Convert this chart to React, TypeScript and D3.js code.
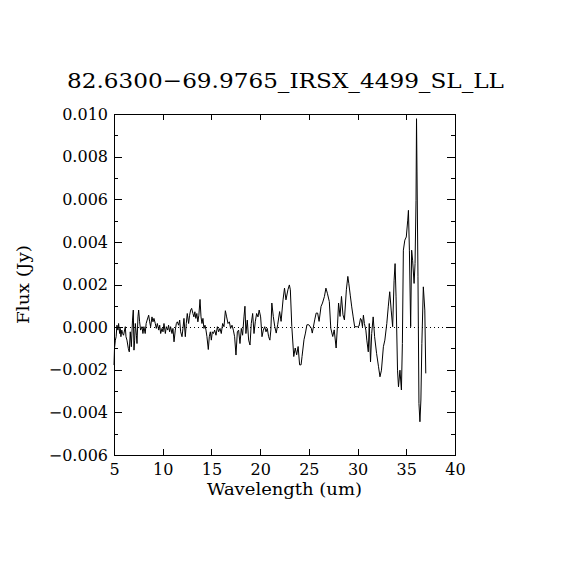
import React, { useEffect, useRef } from 'react';
import * as d3 from 'd3';

const title = '82.6300\u221269.9765_IRSX_4499_SL_LL';
const xLabel = 'Wavelength (um)';
const yLabel = 'Flux (Jy)';

const xTicks = [5, 10, 15, 20, 25, 30, 35, 40];
const yTicks = [-0.006, -0.004, -0.002, 0.0, 0.002, 0.004, 0.006, 0.008, 0.01];
const yMinorTicks = [-0.005, -0.003, -0.001, 0.001, 0.003, 0.005, 0.007, 0.009];

// spectrum (um, Jy)
const wavelength = [
  5.0, 5.05, 5.14, 5.22, 5.3, 5.4, 5.47, 5.58, 5.64, 5.71,
  5.8, 5.88, 5.98, 6.16, 6.23, 6.33, 6.47, 6.57, 6.67, 6.78,
  6.9, 6.98, 7.05, 7.12, 7.19, 7.3, 7.36, 7.46, 7.53, 7.63,
  7.73, 7.87, 7.97, 8.07, 8.2, 8.3, 8.4, 8.56, 8.66, 8.76,
  8.9, 9.0, 9.1, 9.24, 9.34, 9.45, 9.59, 9.69, 9.79, 9.93,
  10.03, 10.13, 10.27, 10.37, 10.51, 10.6, 10.71, 10.81, 10.95, 11.05,
  11.16, 11.29, 11.4, 11.5, 11.63, 11.74, 11.84, 11.98, 12.08, 12.18,
  12.32, 12.42, 12.52, 12.66, 12.76, 12.87, 12.97, 13.1, 13.2, 13.3,
  13.4, 13.5, 13.61, 13.71, 13.83, 13.93, 14.03, 14.13, 14.23, 14.34,
  14.44, 14.54, 14.68, 14.78, 14.89, 14.99, 15.09, 15.2, 15.33, 15.47,
  15.61, 15.74, 15.88, 16.01, 16.15, 16.29, 16.43, 16.56, 16.7, 16.84,
  16.97, 17.11, 17.25, 17.38, 17.52, 17.66, 17.79, 17.93, 18.07, 18.2,
  18.34, 18.44, 18.54, 18.68, 18.82, 18.96, 19.09, 19.23, 19.37, 19.5,
  19.64, 19.78, 19.9, 20.05, 20.19, 20.33, 20.47, 20.6, 20.73, 20.87,
  21.0, 21.1, 21.2, 21.35, 21.5, 21.65, 21.8, 22.0, 22.15, 22.35,
  22.5, 22.65, 22.85, 23.0, 23.1, 23.25, 23.45, 23.6, 23.75, 23.9,
  24.05, 24.2, 24.3, 24.5, 24.65, 24.8, 25.0, 25.25, 25.35, 25.6,
  25.75, 25.9, 26.05, 26.25, 26.4, 26.6, 26.75, 26.9, 27.1, 27.25,
  27.45, 27.6, 27.8, 27.95, 28.05, 28.2, 28.35, 28.5, 28.65, 28.85,
  29.0, 29.1, 29.25, 29.4, 29.55, 29.7, 29.85, 30.0, 30.15, 30.3,
  30.4, 30.5, 30.6, 30.7, 30.85, 30.95, 31.1, 31.2, 31.33, 31.45,
  31.6, 31.75, 31.95, 32.15, 32.3, 32.45, 32.65, 32.8, 33.0, 33.15,
  33.3, 33.45, 33.6, 33.75, 33.85, 33.95, 34.1, 34.2, 34.35, 34.5,
  34.6, 34.7, 34.85, 35.0, 35.15, 35.22, 35.32, 35.45, 35.55, 35.65,
  35.8, 35.9, 36.0, 36.05, 36.1, 36.2, 36.3, 36.4, 36.5, 36.6,
  36.75, 36.9, 37.0,
];

const flux = [
  -0.00178, -0.001, -0.00061, -0.00045, 0.00009, -0.00014, 0.00017, -0.0003, -0.00006, -0.00045,
  -0.00014, -0.0003, -0.00038, 0.00002, -0.00045, -0.00061, -0.001, -0.00116, -0.00022, -0.00092,
  0.00033, 0.0008, -0.00108, -0.00061, 0.00017, -0.00038, -0.00077, 0.00048, 0.0008, 0.00025,
  -0.00014, 0.00002, -0.0003, 0.00002, -0.0003, 0.00017, 0.00033, 0.00056, 0.00025, 0.00002,
  0.00048, 0.00025, 0.00041, 0.00017, -0.00006, 0.00017, -0.00014, 0.00009, -0.0003, -0.00006,
  -0.00022, 0.00017, -0.0003, 0.00002, -0.00014, 0.00009, -0.00022, 0.00002, -0.0003, -0.00006,
  -0.00069, -0.00014, 0.00017, 0.00025, 0.00009, 0.00033, -0.00022, -0.00045, -0.00006, 0.00041,
  -0.00045, 0.00017, 0.00064, 0.00017, 0.00056, 0.0008, 0.00088, 0.00064, 0.00048, 0.00072,
  0.00041, 0.00064, 0.00025, 0.00056, 0.0013, 0.00048, 0.00017, 0.00041, -0.00006, 0.00009,
  -0.00014, -0.00045, -0.00105, -0.00045, -0.00022, -0.00061, -0.00022, -0.0003, -0.00014, -0.00038,
  0.00002, -0.00022, -0.00006, -0.0003, 0.00017, 0.00002, 0.00077, 0.00048, 0.00017, 0.00025,
  -0.00006, 0.00009, -0.00014, -0.00045, -0.00131, -0.00022, -0.00014, -0.00077, -0.00006, -0.00038,
  0.00048, 0.00098, -0.0003, 0.00033, -0.00061, -0.00084, 0.00017, 0.00064, -0.0003, 0.00025,
  0.00064, 0.00048, 0.0008, 0.00048, -0.00045, -0.00014, 0.00002, -0.00022, -0.00006, -0.00045,
  -0.00061, -0.00013, 0.00113, 0.0005, 0.00003, -0.00028, 0.00011, 0.00073, 0.00027, 0.00128,
  0.00183, 0.00128, 0.00175, 0.00198, 0.00175, 0.00003, -0.00138, -0.00098, -0.0013, -0.00091,
  -0.00177, -0.00177, -0.00138, -0.00059, -0.00028, 0.00011, 0.00011, -0.00005, -0.00028, 0.00034,
  0.00066, 0.00066, 0.00027, 0.00097, 0.00113, 0.00144, 0.00183, 0.00159, 0.0012, -0.00005,
  -0.00044, -0.00013, -0.00098, 0.00019, 0.00113, 0.0005, 0.00144, 0.00058, 0.00034, 0.00175,
  0.00238, 0.00205, 0.0015, 0.00095, 0.00048, 0.00002, 0.00002, 0.00002, 0.00005, 0.00041,
  0.00033, 0.00002, 0.00056, 0.00017, -0.00014, -0.00061, -0.00116, 0.00017, -0.00163, -0.0003,
  0.00048, -0.00045, -0.00123, -0.00186, -0.00233, -0.00202, -0.00092, -0.00061, 0.00017, 0.00095,
  0.00166, 0.0008, 0.00002, 0.0022, 0.00298, 0.00142, -0.00202, -0.0028, -0.00202, -0.00295,
  -0.00077, 0.00361, 0.00408, 0.00423, 0.00502, 0.00548, 0.00361, 0.00002, 0.00361, 0.00314,
  0.00205, 0.00298, 0.00595, 0.00978, 0.00728, 0.00236, -0.00358, -0.00444, -0.00342, -0.00077,
  0.00189, 0.0008, -0.00217,
];

const W = 570;
const H = 570;
const plotLeft = 114;
const plotRight = 455;
const plotTop = 114;
const plotBottom = 455;
const fontFamily = "'DejaVu Serif', 'Liberation Serif', serif";

const App: React.FC = () => {
  const chartRef = useRef<SVGSVGElement | null>(null);

  useEffect(() => {
    const svg = d3.select(chartRef.current);
    svg.selectAll('*').remove();

    const x = d3.scaleLinear().domain([5, 40]).range([plotLeft, plotRight]);
    const y = d3.scaleLinear().domain([-0.006, 0.01]).range([plotBottom, plotTop]);

    svg.append('rect').attr('width', W).attr('height', H).attr('fill', '#fff');

    // zero line
    svg.append('line')
      .attr('x1', x(5)).attr('x2', x(40))
      .attr('y1', Math.round(y(0)) + 0.5).attr('y2', Math.round(y(0)) + 0.5)
      .attr('stroke', '#000')
      .attr('stroke-width', 1)
      .attr('stroke-dasharray', '1,3');

    // spectrum
    const pts = wavelength.map((w, i) => [w, flux[i]] as [number, number]);
    const line = d3.line<[number, number]>()
      .x((d) => x(d[0]))
      .y((d) => y(d[1]));
    svg.append('path')
      .datum(pts)
      .attr('fill', 'none')
      .attr('stroke', '#000')
      .attr('stroke-width', 1)
      .attr('d', line);

    const styleAxis = (g: d3.Selection<SVGGElement, unknown, null, undefined>) => {
      g.select('.domain').remove();
      g.selectAll('line').attr('stroke', '#000').attr('shape-rendering', 'crispEdges');
      g.selectAll('text')
        .attr('fill', '#000')
        .attr('font-family', fontFamily)
        .attr('font-size', 16);
    };

    // bottom / top
    svg.append('g')
      .attr('transform', `translate(0,${plotBottom})`)
      .call(d3.axisBottom(x).tickValues(xTicks).tickSize(-6).tickPadding(9).tickFormat(d3.format('d')))
      .call(styleAxis);
    svg.append('g')
      .attr('transform', `translate(0,${plotTop})`)
      .call(d3.axisTop(x).tickValues(xTicks).tickSize(-6).tickFormat(() => ''))
      .call(styleAxis);

    // left / right
    svg.append('g')
      .attr('transform', `translate(${plotLeft},0)`)
      .call(d3.axisLeft(y).tickValues(yTicks).tickSize(-8).tickPadding(6).tickFormat(d3.format('.3f')))
      .call(styleAxis);
    svg.append('g')
      .attr('transform', `translate(${plotLeft},0)`)
      .call(d3.axisLeft(y).tickValues(yMinorTicks).tickSize(-4).tickFormat(() => ''))
      .call(styleAxis);
    svg.append('g')
      .attr('transform', `translate(${plotRight},0)`)
      .call(d3.axisRight(y).tickValues(yTicks).tickSize(-8).tickFormat(() => ''))
      .call(styleAxis);
    svg.append('g')
      .attr('transform', `translate(${plotRight},0)`)
      .call(d3.axisRight(y).tickValues(yMinorTicks).tickSize(-4).tickFormat(() => ''))
      .call(styleAxis);

    // frame
    svg.append('rect')
      .attr('x', plotLeft).attr('y', plotTop)
      .attr('width', plotRight - plotLeft).attr('height', plotBottom - plotTop)
      .attr('fill', 'none')
      .attr('stroke', '#000')
      .attr('shape-rendering', 'crispEdges');

    // labels
    svg.append('text')
      .attr('x', (67 + 504) / 2)
      .attr('y', 88)
      .attr('text-anchor', 'middle')
      .attr('font-family', fontFamily)
      .attr('font-size', 21)
      .attr('textLength', 437)
      .attr('lengthAdjust', 'spacingAndGlyphs')
      .text(title);

    svg.append('text')
      .attr('x', (plotLeft + plotRight) / 2)
      .attr('y', 495)
      .attr('text-anchor', 'middle')
      .attr('font-family', fontFamily)
      .attr('font-size', 17)
      .attr('textLength', 155)
      .attr('lengthAdjust', 'spacingAndGlyphs')
      .text(xLabel);

    svg.append('text')
      .attr('transform', `translate(29,${(plotTop + plotBottom) / 2}) rotate(-90)`)
      .attr('text-anchor', 'middle')
      .attr('font-family', fontFamily)
      .attr('font-size', 17)
      .attr('textLength', 79)
      .attr('lengthAdjust', 'spacingAndGlyphs')
      .text(yLabel);
  }, []);

  return (
    <svg
      ref={chartRef}
      width={W}
      height={H}
      style={{ position: 'absolute', left: 0, top: 0 }}
    />
  );
};

export default App;
